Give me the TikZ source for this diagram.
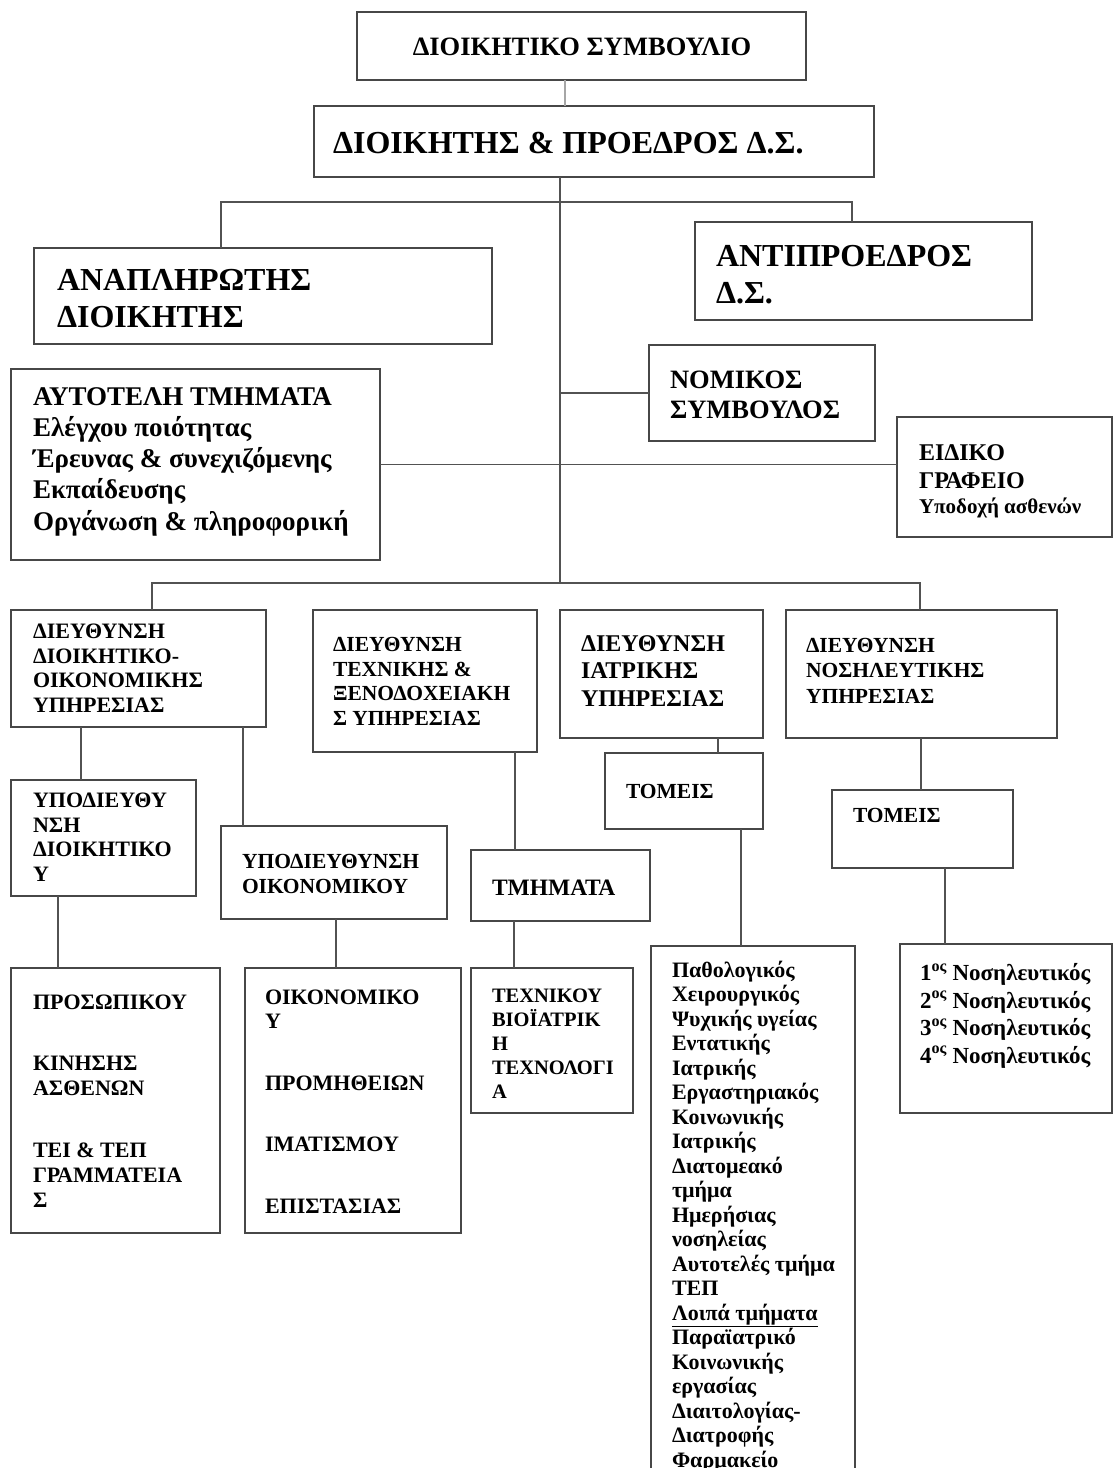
\documentclass[tikz,border=0pt]{standalone}
\usepackage{fontspec}
\setmainfont{Liberation Serif}
\begin{document}
\begin{tikzpicture}[x=1pt,y=-1pt,
  box/.style={draw=black!72,line width=1.3pt,inner sep=0,outer sep=0},
  ln/.style={draw=black!68,line width=1.3pt},
  txt/.style={anchor=base west,inner sep=0,outer sep=0,align=left}]
\useasboundingbox (0,0) rectangle (1114,1468);
\clip (0,0) rectangle (1114,1468);
\newcommand\bx[5]{\node[box,minimum width=#4-#2,minimum height=#5-#3] (#1) at ({(#2+#4)/2},{(#3+#5)/2}) {};}
\newcommand\fs[2]{\fontsize{#1}{#2}\selectfont\bfseries}
% boxes
\bx{b1}{357}{12}{806}{80}
\bx{b2}{314}{106}{874}{177}
\bx{anap}{34}{248}{492}{344}
\bx{anti}{695}{222}{1032}{320}
\bx{nom}{649}{345}{875}{441}
\bx{auto}{11}{369}{380}{560}
\bx{eid}{897}{417}{1112}{537}
\bx{d1}{11}{610}{266}{727}
\bx{d2}{313}{610}{537}{752}
\bx{d3}{560}{610}{763}{738}
\bx{d4}{786}{610}{1057}{738}
\bx{tom1}{605}{753}{763}{829}
\bx{tom2}{832}{790}{1013}{868}
\bx{ypd}{11}{780}{196}{896}
\bx{ypo}{221}{826}{447}{919}
\bx{tmh}{471}{850}{650}{921}
\bx{pros}{11}{968}{220}{1233}
\bx{oik}{245}{968}{461}{1233}
\bx{tex}{471}{968}{633}{1113}
\bx{list}{651}{946}{855}{1490}
\bx{nos}{900}{944}{1112}{1113}
% texts
\node[inner sep=0,font=\fs{26.5}{30}] (t1) at (582,47) {ΔΙΟΙΚΗΤΙΚΟ ΣΥΜΒΟΥΛΙΟ};
\node[txt,font=\fs{32}{37}] (t2) at (333,153) {ΔΙΟΙΚΗΤΗΣ \& ΠΡΟΕΔΡΟΣ Δ.Σ.};
\node[txt,font=\fs{32}{37}] (tanap) at (57,327) {ΑΝΑΠΛΗΡΩΤΗΣ\\ΔΙΟΙΚΗΤΗΣ};
\node[txt,font=\fs{32}{37}] (tanti) at (716,303) {ΑΝΤΙΠΡΟΕΔΡΟΣ\\Δ.Σ.};
\node[txt,font=\fs{26.5}{30}] (tnom) at (670,418) {ΝΟΜΙΚΟΣ\\ΣΥΜΒΟΥΛΟΣ};
\node[txt,font=\fs{27}{31.2}] (tauto) at (33,530) {ΑΥΤΟΤΕΛΗ ΤΜΗΜΑΤΑ\\Ελέγχου ποιότητας\\Έρευνας \& συνεχιζόμενης\\Εκπαίδευσης\\Οργάνωση \& πληροφορική};
\node[txt,font=\fs{24}{28}] (teid) at (919,513) {ΕΙΔΙΚΟ\\ΓΡΑΦΕΙΟ\\[-3pt]{\fontsize{21}{25}\selectfont Υποδοχή ασθενών}};
\node[txt,font=\fs{22}{24.5}] (td1) at (33,712) {ΔΙΕΥΘΥΝΣΗ\\ΔΙΟΙΚΗΤΙΚΟ-\\ΟΙΚΟΝΟΜΙΚΗΣ\\ΥΠΗΡΕΣΙΑΣ};
\node[txt,font=\fs{21.5}{24.5}] (td2) at (333,725) {ΔΙΕΥΘΥΝΣΗ\\ΤΕΧΝΙΚΗΣ \&\\ΞΕΝΟΔΟΧΕΙΑΚΗ\\Σ ΥΠΗΡΕΣΙΑΣ};
\node[txt,font=\fs{24}{27.5}] (td3) at (581,706) {ΔΙΕΥΘΥΝΣΗ\\ΙΑΤΡΙΚΗΣ\\ΥΠΗΡΕΣΙΑΣ};
\node[txt,font=\fs{21.5}{25.5}] (td4) at (806,703) {ΔΙΕΥΘΥΝΣΗ\\ΝΟΣΗΛΕΥΤΙΚΗΣ\\ΥΠΗΡΕΣΙΑΣ};
\node[txt,font=\fs{21.5}{24}] (ttom1) at (626,798) {ΤΟΜΕΙΣ};
\node[txt,font=\fs{21.5}{24}] (ttom2) at (853,822) {ΤΟΜΕΙΣ};
\node[txt,font=\fs{22}{24.5}] (typd) at (33,881) {ΥΠΟΔΙΕΥΘΥ\\ΝΣΗ\\ΔΙΟΙΚΗΤΙΚΟ\\Υ};
\node[txt,font=\fs{21.5}{25}] (typo) at (242,893) {ΥΠΟΔΙΕΥΘΥΝΣΗ\\ΟΙΚΟΝΟΜΙΚΟΥ};
\node[txt,font=\fs{23.5}{25}] (ttmh) at (492,895) {ΤΜΗΜΑΤΑ};
\node[txt,font=\fs{22}{25}] (tpros) at (33,1207) {ΠΡΟΣΩΠΙΚΟΥ\\[36pt]ΚΙΝΗΣΗΣ\\ΑΣΘΕΝΩΝ\\[37pt]ΤΕΙ \& ΤΕΠ\\ΓΡΑΜΜΑΤΕΙΑ\\Σ};
\node[txt,font=\fs{22}{24}] (toik) at (265,1213) {ΟΙΚΟΝΟΜΙΚΟ\\Υ\\[38pt]ΠΡΟΜΗΘΕΙΩΝ\\[37pt]ΙΜΑΤΙΣΜΟΥ\\[38pt]ΕΠΙΣΤΑΣΙΑΣ};
\node[txt,font=\fs{20.5}{24}] (ttex) at (492,1098) {ΤΕΧΝΙΚΟΥ\\ΒΙΟΪΑΤΡΙΚ\\Η\\ΤΕΧΝΟΛΟΓΙ\\Α};
\node[txt,font=\fs{22}{24.5}] (tlist) at (672,1467) {Παθολογικός\\Χειρουργικός\\Ψυχικής υγείας\\Εντατικής\\Ιατρικής\\Εργαστηριακός\\Κοινωνικής\\Ιατρικής\\Διατομεακό\\τμήμα\\Ημερήσιας\\νοσηλείας\\Αυτοτελές τμήμα\\ΤΕΠ\\\underline{Λοιπά τμήματα}\\Παραϊατρικό\\Κοινωνικής\\εργασίας\\Διαιτολογίας-\\Διατροφής\\Φαρμακείο};
\node[txt,font=\fs{23}{27.5}] (tnos) at (920,1063) {1\textsuperscript{ος} Νοσηλευτικός\\2\textsuperscript{ος} Νοσηλευτικός\\3\textsuperscript{ος} Νοσηλευτικός\\4\textsuperscript{ος} Νοσηλευτικός};
% x-positions of connectors
\coordinate (xa) at (565,0);
\coordinate (xt) at (560,0);
\coordinate (xl) at (221,0);
\coordinate (xr) at (852,0);
\coordinate (j1) at (560,202);
\coordinate (j2) at (560,583);
\coordinate (xb1) at (152,0);
\coordinate (xb4) at (920,0);
\coordinate (x81) at (81,0);
\coordinate (x243) at (243,0);
\coordinate (x515) at (515,0);
\coordinate (x718) at (718,0);
\coordinate (x921) at (921,0);
\coordinate (x741) at (741,0);
\coordinate (x945) at (945,0);
\coordinate (x58) at (58,0);
\coordinate (x336) at (336,0);
\coordinate (x514) at (514,0);
% connectors
\draw[ln,draw=black!35] (xa |- b1.south) -- (xa |- b2.north);
\draw[ln] (xt |- b2.south) -- (j2);
\draw[ln] (xl |- anap.north) |- (j1) -| (xr |- anti.north);
\draw[ln] (xt |- nom.west) -- (nom.west);
\draw[ln] (auto.east) -- (auto.east -| eid.west);
\draw[ln] (xb1 |- d1.north) |- (j2) -| (xb4 |- d4.north);
\draw[ln] (x81 |- d1.south) -- (x81 |- ypd.north);
\draw[ln] (x243 |- d1.south) -- (x243 |- ypo.north);
\draw[ln] (x515 |- d2.south) -- (x515 |- tmh.north);
\draw[ln] (x718 |- d3.south) -- (x718 |- tom1.north);
\draw[ln] (x921 |- d4.south) -- (x921 |- tom2.north);
\draw[ln] (x741 |- tom1.south) -- (x741 |- list.north);
\draw[ln] (x945 |- tom2.south) -- (x945 |- nos.north);
\draw[ln] (x58 |- ypd.south) -- (x58 |- pros.north);
\draw[ln] (x336 |- ypo.south) -- (x336 |- oik.north);
\draw[ln] (x514 |- tmh.south) -- (x514 |- tex.north);
\end{tikzpicture}
\end{document}
